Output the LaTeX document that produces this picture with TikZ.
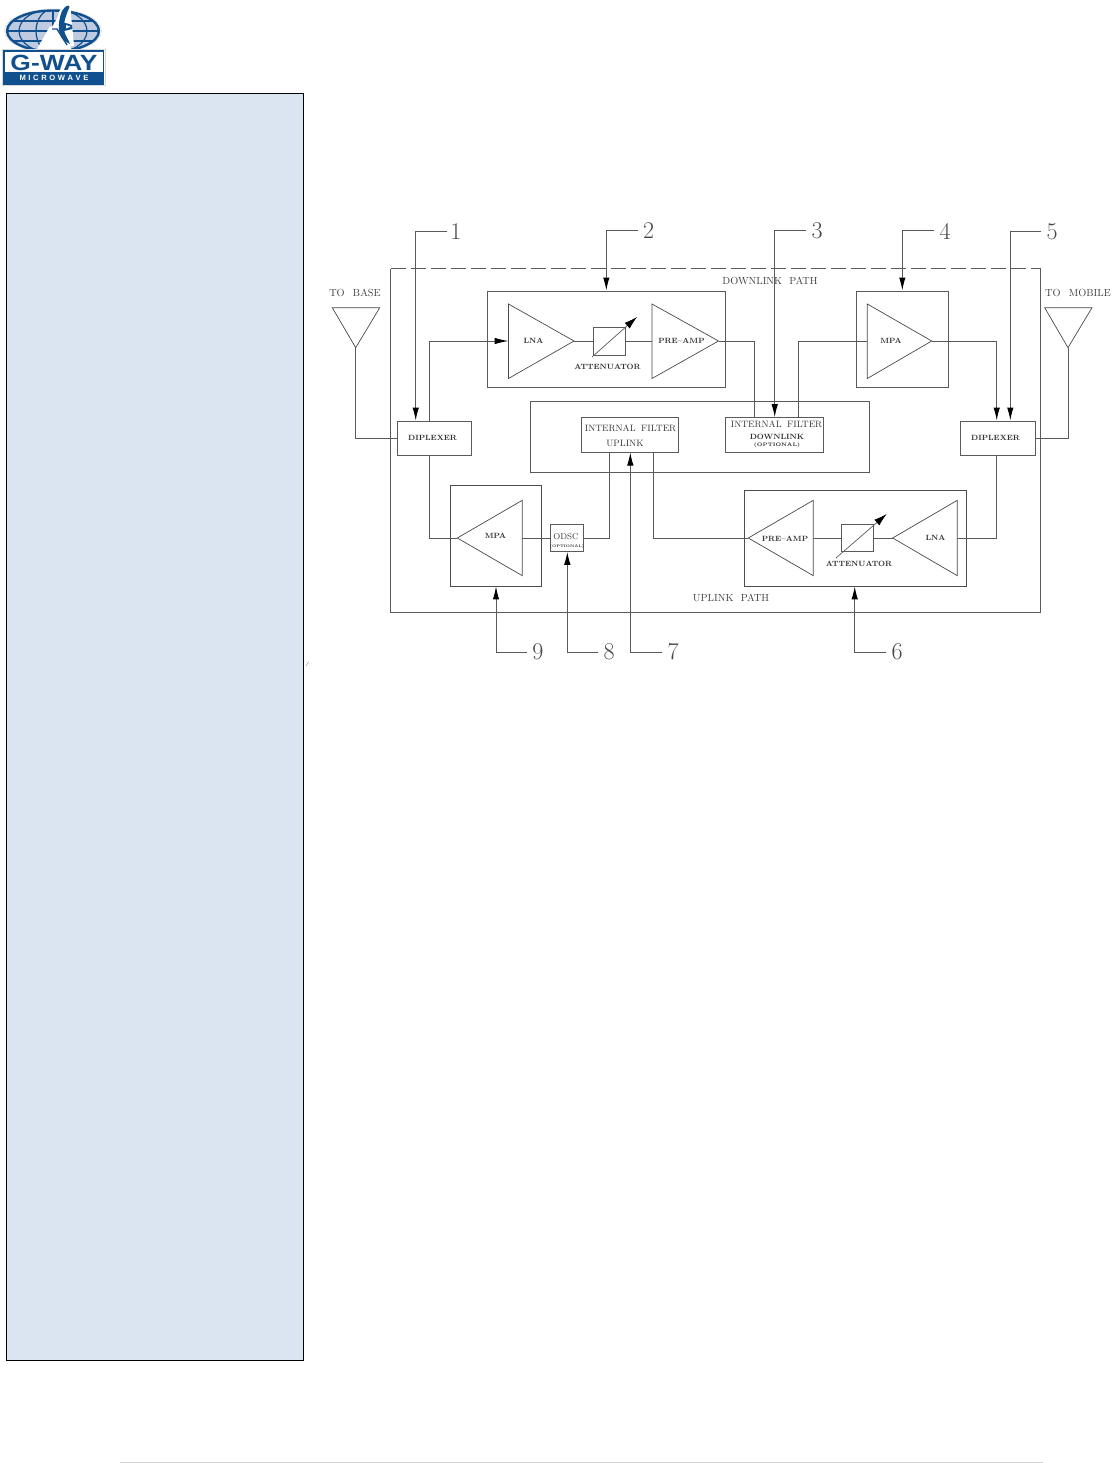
\documentclass[tikz,border=0pt]{standalone}
\usepackage{fontspec}
\setsansfont{Liberation Sans}
\usetikzlibrary{arrows.meta,fit}
\definecolor{ink}{HTML}{5A5A5A}
\definecolor{panel}{HTML}{DBE5F1}
\definecolor{gblue}{HTML}{11508F}
\definecolor{glight}{HTML}{BECADF}
\tikzset{
  blk/.style={draw=ink,line width=1pt,inner sep=0pt,fit={#1}},
  thinblk/.style={draw=ink!85!black,line width=0.9pt,inner sep=0pt,fit={#1}},
  wire/.style={draw=ink,line width=1pt},
  amp/.style={draw=ink!80!black,line width=0.7pt,line join=miter},
  call/.style={draw=ink,line width=1pt,-{Latex[length=13pt,width=6.5pt,black]}},
  lbl/.style={text=black!75,inner sep=0pt,font=\fontsize{10.3}{11}\selectfont},
  flt/.style={text=black!80,inner sep=0pt,font=\fontsize{9.2}{10}\selectfont},
  sm/.style={text=black!80,inner sep=0pt,font=\fontsize{7.6}{8}\selectfont\bfseries},
  tiny/.style={text=black!85,inner sep=0pt,font=\fontsize{5}{6}\selectfont\bfseries},
  num/.style={text=black!72,inner sep=0pt,font=\fontsize{24}{24}\selectfont},
}
\begin{document}
\begin{tikzpicture}[x=1pt,y=-1pt]
\useasboundingbox (0,0) rectangle (1114,1463);
% sidebar and page rule
\node[draw=black,fill=panel,line width=0.9pt,inner sep=0pt,fit={(6,93)(303.5,1360.5)}] (side) {};
\coordinate (ruleA) at (120,1462.3);
\coordinate (ruleB) at (1043,1462.3);
\draw[black!18,line width=1pt] (ruleA) -- (ruleB);
\draw[black!45,line width=0.4pt] (306,666) -- (308.5,662);
% ---- logo ----
\begin{scope}
\fill[white,draw=black!15,line width=0.5pt] (53,31) ellipse [x radius=48.5,y radius=22];
\begin{scope}
\clip (53,31) ellipse [x radius=46,y radius=20.5];
\fill[glight] (0,0) rectangle (110,60);
\foreach \yy in {21,31,41}{\draw[gblue,line width=1.2pt] (0,\yy) -- (110,\yy);}
\foreach \rr in {17,34}{\draw[gblue,line width=1.2pt] (53,31) ellipse [x radius=\rr,y radius=22];}
\draw[gblue,line width=1.2pt] (53,8) -- (53,55);
\end{scope}
\draw[gblue,line width=2.4pt] (53,31) ellipse [x radius=46,y radius=20.5];
% tower
\fill[white] (50,26) -- (36,51) -- (72,51) -- (66,36) -- cycle;
% dish
\fill[white] (59,12) .. controls (63,4) and (72,0) .. (72,6) .. controls (70,14) and (71,16) .. (72,24)
  -- (74,46) -- (66,47) .. controls (58,40) and (54,30) .. (51,28) .. controls (54,24) and (57,20) .. (59,12) -- cycle;
\fill[gblue] (62,11) .. controls (65,6) and (69,4) .. (69.5,7) .. controls (67,13) and (63,22) .. (64,30)
  .. controls (65,36) and (69,40) .. (70,44) .. controls (62,40) and (60,36) .. (59,30) .. controls (58,24) and (60,16) .. (62,11) -- cycle;
\draw[gblue,line width=1.4pt] (52,29) -- (57,29) -- (67,45);
\fill[gblue] (64,22.5) -- (72,25) -- (72.5,29) -- (64,31) -- cycle;
\fill[white] (66,25) -- (70.5,26.7) -- (66,28.5) -- cycle;
\end{scope}
\fill[white,draw=black!15,line width=0.5pt] (2.5,49.5) rectangle (105,85.5);
\draw[gblue,line width=1.6pt] (4,51) rectangle (103.5,84);
\fill[gblue] (4,72.5) rectangle (103.5,84);
\node[inner sep=0pt,text=gblue,xscale=1.2,transform shape,font=\fontsize{22}{22}\selectfont\sffamily\bfseries] (gway) at (54,62.5) {G-WAY};
\node[inner sep=0pt,text=white,font=\fontsize{7.6}{8}\selectfont\sffamily\bfseries] (micro) at (54,78.3) {M\hspace{2.6pt}I\hspace{2.6pt}C\hspace{2.6pt}R\hspace{2.6pt}O\hspace{2.6pt}W\hspace{2.6pt}A\hspace{2.6pt}V\hspace{2.6pt}E};
% ---- outer frame ----
\coordinate (oTL) at (390.5,268.5);
\coordinate (oTR) at (1040.5,268.5);
\coordinate (oBR) at (1040.5,612);
\coordinate (oBL) at (390.5,612);
\draw[wire] (oTR) -- (oBR) -- (oBL) -- (oTL);
\draw[wire,dash pattern=on 15pt off 5pt] (oTL) -- (oTR);
% ---- blocks ----
\node[blk={(487,291)(725,387)}] (dlamp) {};
\node[blk={(856,291)(948.3,387)}] (dlmpa) {};
\node[blk={(530.7,401.3)(869.7,472)}] (filt) {};
\node[blk={(581,417.7)(678.7,452)}] (fup) {};
\node[blk={(725.7,417.7)(823.3,452)}] (fdn) {};
\node[blk={(397.3,421)(471.7,455.3)}] (dipL) {};
\node[blk={(960.3,421)(1035.7,455.3)}] (dipR) {};
\node[thinblk={(450.7,485.7)(541.3,586)}] (ulmpa) {};
\node[blk={(550.7,524)(583.7,551.3)}] (odsc) {};
\node[thinblk={(744.3,490.3)(966.3,586)}] (ulamp) {};
\node[blk={(593.3,327.7)(625.3,355)}] (attD) {};
\node[blk={(841,524)(873.3,551)}] (attU) {};
% ---- amplifier triangles ----
\coordinate (t1) at (574,341);   \draw[amp] (508.5,304) -- (t1) -- (508.5,378.5) -- cycle;
\coordinate (b1) at (508.5,341);
\coordinate (t2) at (718.5,341); \draw[amp] (652,304) -- (t2) -- (652,378.5) -- cycle;
\coordinate (b2) at (652,341);
\coordinate (t3) at (931.7,341); \draw[amp] (867.3,304) -- (t3) -- (867.3,378.5) -- cycle;
\coordinate (b3) at (867.3,341);
\coordinate (t4) at (457.3,538); \draw[amp] (522.3,500.3) -- (t4) -- (522.3,575.7) -- cycle;
\coordinate (b4) at (522.3,538);
\coordinate (t5) at (748.3,538); \draw[amp] (813.3,500.3) -- (t5) -- (813.3,575.7) -- cycle;
\coordinate (b5) at (813.3,538);
\coordinate (t6) at (892.7,538); \draw[amp] (957.3,500.3) -- (t6) -- (957.3,575.7) -- cycle;
\coordinate (b6) at (957.3,538);
% ---- antennas ----
\coordinate (aL) at (355.7,347.7);
\coordinate (aR) at (1068,347.7);
\draw[amp] (332.3,307.7) -- (379.7,307.7) -- (aL) -- cycle;
\draw[amp] (1044.7,307.7) -- (1092,307.7) -- (aR) -- cycle;
\draw[wire] (aL) |- (dipL.west);
\draw[wire] (aR) |- (dipR.east);
% ---- signal wires ----
\coordinate (xA) at (429.7,0);
\coordinate (xB) at (754.7,0);
\coordinate (xC) at (798.7,0);
\coordinate (xD) at (996.7,0);
\coordinate (xE) at (609.3,0);
\coordinate (xF) at (653.3,0);
\draw[wire,-{Latex[length=14pt,width=6.5pt,black]}] (dipL.north -| xA) |- (b1);
\draw[wire] (dipL.south -| xA) |- (t4);
\draw[wire] (t1) -- (t1 -| attD.west);
\draw[wire] (attD.east |- b2) -- (b2);
\draw[wire] (t2) -| (fdn.north -| xB);
\draw[wire] (fdn.north -| xC) |- (b3);
\draw[wire,-{Latex[length=13pt,width=6.5pt,black]}] (t3) -| (dipR.north -| xD);
\draw[wire] (b4) -- (odsc.west |- b4);
\draw[wire] (odsc.east |- b4) -| (fup.south -| xE);
\draw[wire] (fup.south -| xF) |- (t5);
\draw[wire] (b5) -- (attU.west |- b5);
\draw[wire] (attU.east |- t6) -- (t6);
\draw[wire] (b6) -| (dipR.south -| xD);
% ---- attenuator arrows ----
\coordinate (a1s) at (592,357); \coordinate (a1e) at (637,317);
\coordinate (a2s) at (836,558); \coordinate (a2e) at (886.7,514);
\draw[draw=ink,line width=0.7pt,-{Latex[length=13pt,width=7.5pt,black]}] (a1s) -- (a1e);
\draw[draw=ink,line width=0.7pt,-{Latex[length=13pt,width=7.5pt,black]}] (a2s) -- (a2e);
% ---- callouts ----
\node[num,anchor=center] (n1) at (456,232) {1};
\node[num] (n2) at (648.5,231) {2};
\node[num] (n3) at (817,231) {3};
\node[num] (n4) at (945,231) {4};
\node[num] (n5) at (1052,232) {5};
\node[num] (n6) at (897,652) {6};
\node[num] (n7) at (673,652) {7};
\node[num] (n8) at (609,652) {8};
\node[num] (n9) at (538,652) {9};
\coordinate (c1) at (415.7,231.3);
\coordinate (c2) at (606.3,231);
\coordinate (c3) at (774.7,231);
\coordinate (c4) at (902.3,231);
\coordinate (c5) at (1010.3,232.7);
\coordinate (c6) at (854.7,652.3);
\coordinate (c7) at (630.3,652.3);
\coordinate (c8) at (567.3,652.3);
\coordinate (c9) at (496,652.3);
\draw[call] ([xshift=-3pt]n1.west) -- (n1.west -| c1) -- (c1 |- dipL.north);
\draw[call] ([xshift=-5pt]n2.west) -- (n2.west -| c2) -- (c2 |- dlamp.north);
\draw[call] ([xshift=-5pt]n3.west) -- (n3.west -| c3) -- (c3 |- fdn.north);
\draw[call] ([xshift=-5pt]n4.west) -- (n4.west -| c4) -- (c4 |- dlmpa.north);
\draw[call] ([xshift=-5pt]n5.west) -- (n5.west -| c5) -- (c5 |- dipR.north);
\draw[call] ([xshift=-5pt]n6.west) -- (n6.west -| c6) -- (c6 |- ulamp.south);
\draw[call] ([xshift=-5pt]n7.west) -- (n7.west -| c7) -- (c7 |- fup.south);
\draw[call] ([xshift=-5pt]n8.west) -- (n8.west -| c8) -- (c8 |- odsc.south);
\draw[call] ([xshift=-5pt]n9.west) -- (n9.west -| c9) -- (c9 |- ulmpa.south);
% ---- labels ----
\node[lbl] (toB) at (355,293) {TO\hspace{0.8em}BASE};
\node[lbl] (toM) at (1078,293) {TO\hspace{0.8em}MOBILE};
\node[lbl] (dlp) at (770,281) {DOWNLINK\hspace{0.7em}PATH};
\node[lbl] (ulp) at (731,597.5) {UPLINK\hspace{0.7em}PATH};
\node[sm] at (dipL.center) [xshift=-2pt] (dipLt) {DIPLEXER};
\node[sm] at (dipR.center) [xshift=-2.5pt,yshift=0.5pt] (dipRt) {DIPLEXER};
\node[sm] (l1) at (533.5,341) {LNA};
\node[sm] (l2) at (681.5,341) {PRE--AMP};
\node[sm] (l3) at (607.5,367) {ATTENUATOR};
\node[sm] (l4) at (891,341) {MPA};
\node[sm] (l5) at (495.5,536) {MPA};
\node[sm] (l6) at (785,538.5) {PRE--AMP};
\node[sm] (l7) at (935.5,538) {LNA};
\node[sm] (l8) at (859,564) {ATTENUATOR};
\node[flt] (f1) at (630.5,428.5) {INTERNAL\hspace{0.6em}FILTER};
\node[flt] (f2) at (625,443) {UPLINK};
\node[flt] (f3) at (776.5,424.5) {INTERNAL\hspace{0.6em}FILTER};
\node[sm] (f4) at (777,437) {DOWNLINK};
\node[tiny] (f5) at (777,445.5) {(OPTIONAL)};
\node[flt,font=\fontsize{8.4}{9}\selectfont] (o1) at (566,536.5) {ODSC};
\node[tiny,font=\fontsize{3.7}{5}\selectfont\bfseries] (o2) at (567,546.5) {(OPTIONAL)};
\end{tikzpicture}
\end{document}
